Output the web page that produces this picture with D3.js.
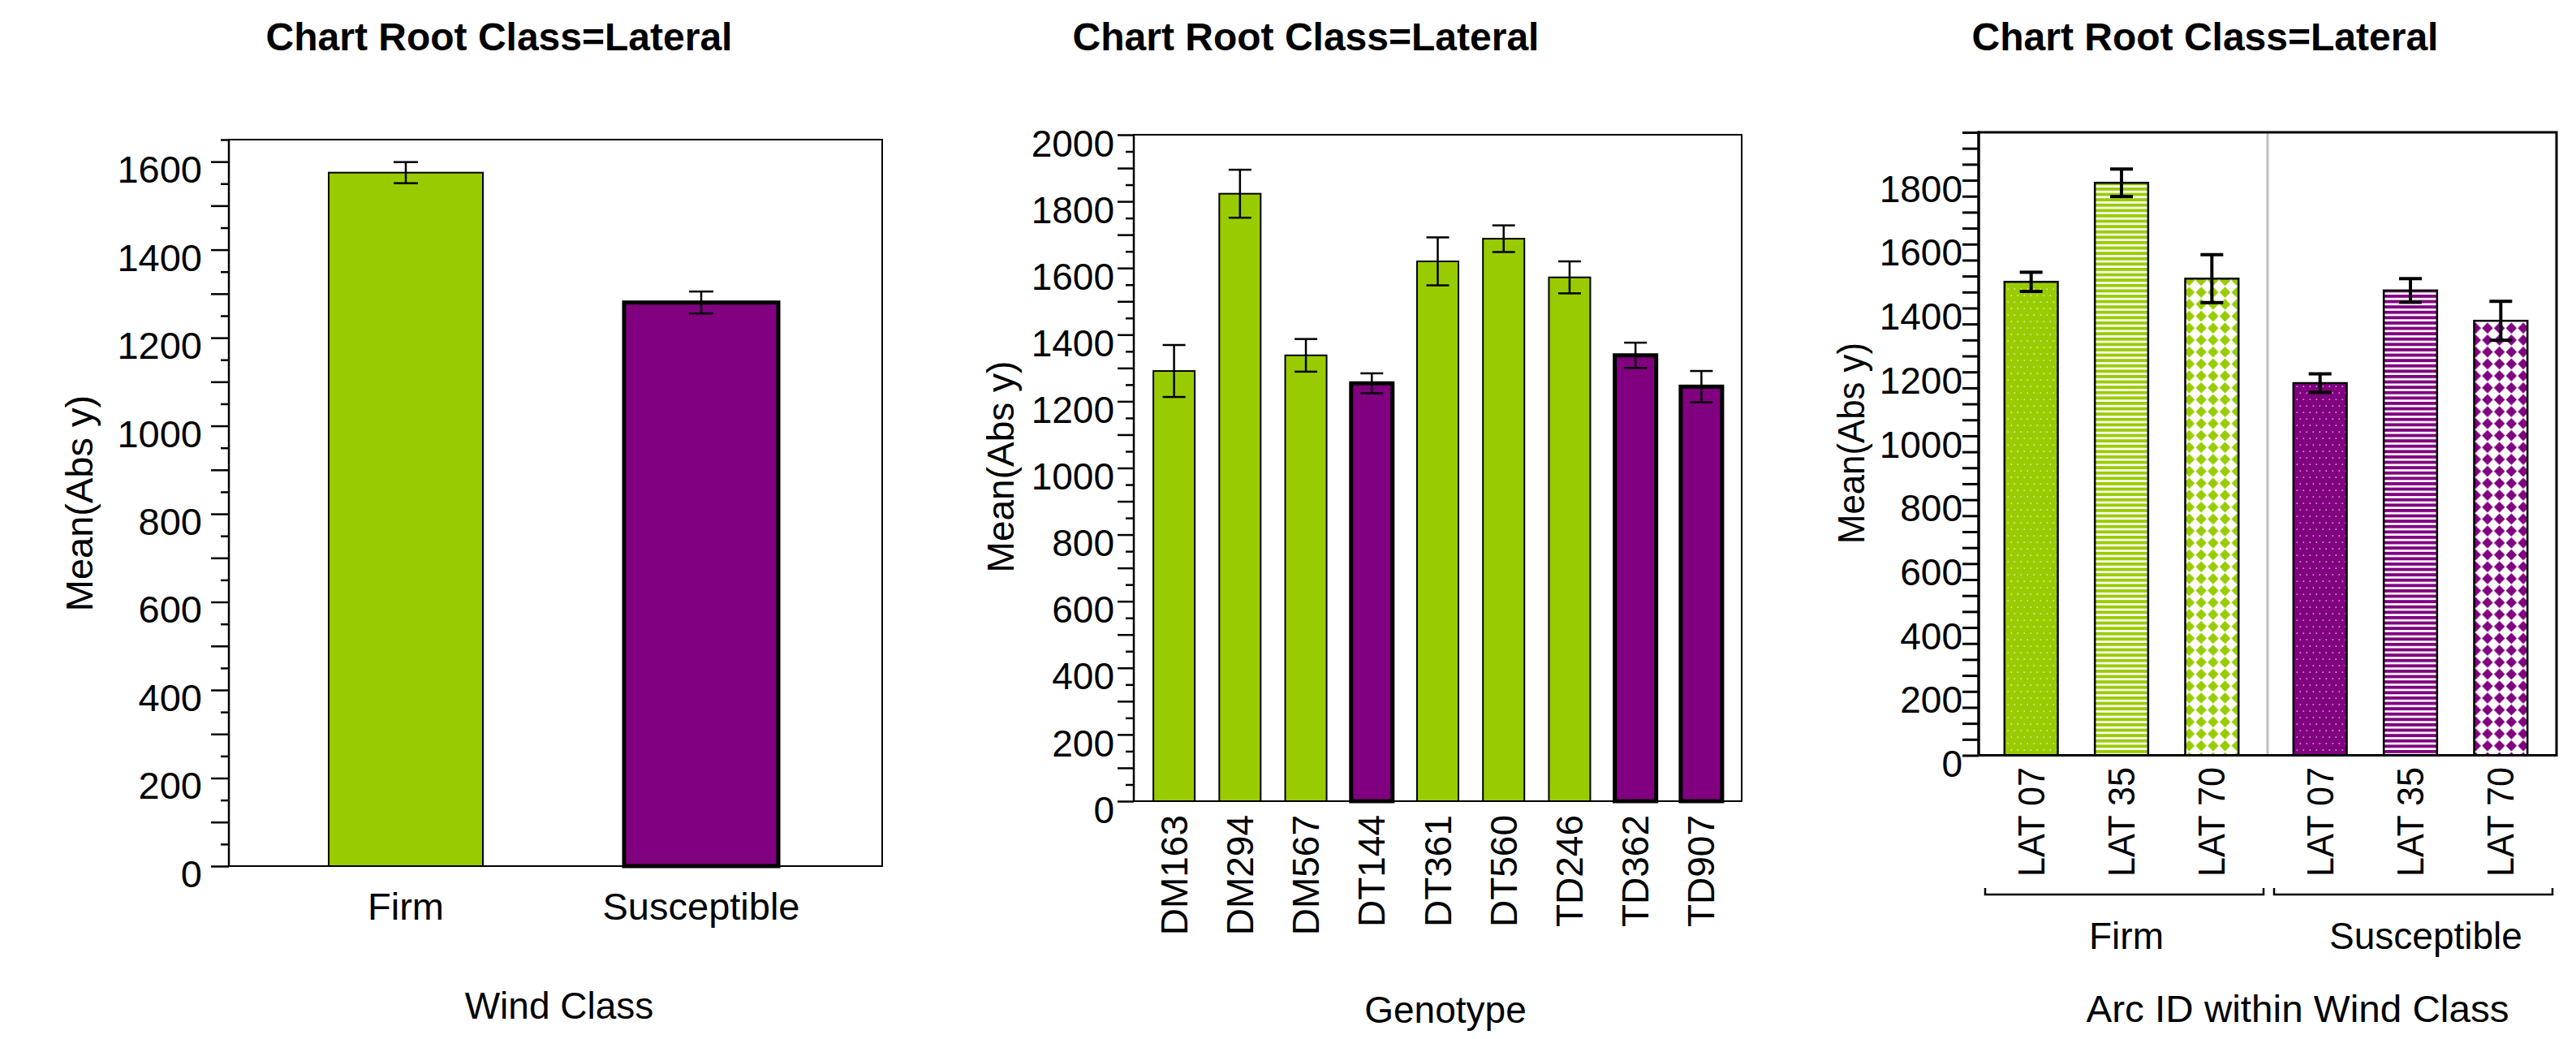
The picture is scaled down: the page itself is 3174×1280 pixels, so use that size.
<!DOCTYPE html>
<html>
<head>
<meta charset="utf-8">
<script src="https://cdn.jsdelivr.net/npm/d3@7"></script>
<style>
  html, body { margin: 0; padding: 0; background: #fff; }
  svg { display: block; }
</style>
</head>
<body>
<svg id="chart" width="3174" height="1280"></svg>
<script>
// ---- data -------------------------------------------------------------
const chartTitle = "Chart Root Class=Lateral";
const yTitle = "Mean(Abs y)";

// Panel 1: mean by wind class
const windClasses = ["Firm", "Susceptible"];
const windMeans = [1575, 1280];
const windErrors = [24, 25];
const windTicks = [0, 200, 400, 600, 800, 1000, 1200, 1400, 1600];

// Panel 2: mean by genotype
const genotypes = ["DM163", "DM294", "DM567", "DT144", "DT361", "DT560", "TD246", "TD362", "TD907"];
const genotypeClass = ["Firm", "Firm", "Firm", "Susceptible", "Firm", "Firm", "Firm", "Susceptible", "Susceptible"];
const genotypeMeans = [1291, 1823, 1338, 1254, 1620, 1688, 1572, 1338, 1244];
const genotypeErrors = [78, 72, 49, 30, 72, 40, 48, 38, 47];
const genotypeTicks = [0, 200, 400, 600, 800, 1000, 1200, 1400, 1600, 1800, 2000];

// Panel 3: mean by arc ID within wind class
const arcIds = ["LAT 07", "LAT 35", "LAT 70"];
const arcFills = ["dots", "stripes", "diamonds"];
const arcMeansFirm = [1482, 1792, 1492];
const arcErrorsFirm = [30, 43, 75];
const arcMeansSusceptible = [1165, 1455, 1360];
const arcErrorsSusceptible = [29, 37, 61];
const arcTicks = [0, 200, 400, 600, 800, 1000, 1200, 1400, 1600, 1800];

// ---- styling ----------------------------------------------------------
const FONT = "'Liberation Sans', Arial, Helvetica, sans-serif";
const classColor = { "Firm": "#99cc00", "Susceptible": "#800080" };

const svg = d3.select("#chart").attr("font-family", FONT);
const defs = svg.append("defs");

// fill patterns for the arc-ID bars, one per (kind, class)
Object.entries(classColor).forEach(([cls, col]) => {
  // white speckles on solid colour
  const pd = defs.append("pattern").attr("id", `dots-${cls}`)
    .attr("patternUnits", "userSpaceOnUse").attr("width", 8).attr("height", 16);
  pd.append("rect").attr("width", 8).attr("height", 16).attr("fill", col);
  pd.append("rect").attr("x", 1.5).attr("y", 3.5).attr("width", 1.6).attr("height", 1.2).attr("fill", "#fff").attr("opacity", 0.85);
  pd.append("rect").attr("x", 5.5).attr("y", 11.5).attr("width", 1.6).attr("height", 1.2).attr("fill", "#fff").attr("opacity", 0.85);

  // horizontal stripes
  const ps = defs.append("pattern").attr("id", `stripes-${cls}`)
    .attr("patternUnits", "userSpaceOnUse").attr("width", 10).attr("height", 6.6);
  ps.append("rect").attr("width", 10).attr("height", 6.6).attr("fill", "#fff");
  ps.append("rect").attr("y", 0).attr("width", 10).attr("height", 3.9).attr("fill", col);

  // diamond checkerboard
  const s = 14.7, h = s / 2;
  const pk = defs.append("pattern").attr("id", `diamonds-${cls}`)
    .attr("patternUnits", "userSpaceOnUse").attr("width", s).attr("height", s);
  pk.append("rect").attr("width", s).attr("height", s).attr("fill", "#fff");
  pk.append("path").attr("d", `M${h},0.6 L${s - 0.6},${h} L${h},${s - 0.6} L0.6,${h} Z`).attr("fill", col);
});

// ---- helpers ----------------------------------------------------------
function title(cx) {
  svg.append("text").attr("x", cx).attr("y", 62)
    .attr("text-anchor", "middle").attr("font-size", 48).attr("font-weight", "bold")
    .text(chartTitle);
}

function yLabel(cx, cy, fs, len) {
  const t = svg.append("text")
    .attr("transform", `translate(${cx},${cy}) rotate(-90)`)
    .attr("text-anchor", "middle").attr("dy", "0.35em")
    .attr("font-size", fs).text(yTitle);
  if (len) t.attr("textLength", len).attr("lengthAdjust", "spacingAndGlyphs");
}

function yAxis(y, x0, labels, o) {
  const max = y.domain()[1];
  const ax = d3.axisLeft(y)
    .tickValues(d3.range(0, max + 1, 50))
    .tickFormat(d => labels.includes(d) ? String(d) : "")
    .tickSizeOuter(0);
  const g = svg.append("g").attr("transform", `translate(${x0},0)`).call(ax)
    .attr("font-family", FONT).attr("font-size", o.fs);
  g.select(".domain").remove();
  g.selectAll(".tick line")
    .attr("x2", d => -(d % 100 === 0 ? o.longLen : o.shortLen))
    .attr("stroke", "#000").attr("stroke-width", o.sw);
  g.selectAll(".tick text")
    .attr("x", -o.gap).attr("y", o.shift).attr("dy", "0.35em").attr("fill", "#000");
  return g;
}

function frame(x0, x1, yTop, yBot, sw) {
  svg.append("path")
    .attr("d", `M${x0},${yBot} V${yTop} H${x1} V${yBot} H${x0}`)
    .attr("fill", "none").attr("stroke", "#000").attr("stroke-width", sw)
    .attr("stroke-linejoin", "miter");
}

function errorBar(cx, y, mean, err, capW, sw) {
  const g = svg.append("g").attr("stroke", "#000").attr("stroke-width", sw);
  g.append("line").attr("x1", cx).attr("x2", cx).attr("y1", y(mean + err)).attr("y2", y(mean - err));
  g.append("line").attr("x1", cx - capW / 2).attr("x2", cx + capW / 2).attr("y1", y(mean + err)).attr("y2", y(mean + err));
  g.append("line").attr("x1", cx - capW / 2).attr("x2", cx + capW / 2).attr("y1", y(mean - err)).attr("y2", y(mean - err));
}

// ---- panel 1: wind class ---------------------------------------------
(function () {
  const L = 282, R = 1087, T = 172, B = 1067;
  const y = d3.scaleLinear().domain([0, 1650]).range([B, T]);
  const x = d3.scaleBand().domain(windClasses).range([318, 1046])
    .paddingInner(0.478).paddingOuter(0.239);

  title(615);
  frame(L, R, T, B, 2);

  windClasses.forEach((c, i) => {
    const thick = c === "Susceptible";
    svg.append("rect")
      .attr("x", x(c)).attr("width", x.bandwidth())
      .attr("y", y(windMeans[i])).attr("height", y(0) - y(windMeans[i]))
      .attr("fill", classColor[c]).attr("stroke", "#000")
      .attr("stroke-width", thick ? 5 : 2);
    errorBar(x(c) + x.bandwidth() / 2, y, windMeans[i], windErrors[i], 30, 2.5);
  });

  yAxis(y, L, windTicks, { fs: 47, longLen: 22, shortLen: 10, sw: 2.5, gap: 33, shift: 9 });
  svg.append("line").attr("x1", L).attr("x2", L).attr("y1", T).attr("y2", B)
    .attr("stroke", "#000").attr("stroke-width", 2.5);

  windClasses.forEach(c => {
    svg.append("text").attr("x", x(c) + x.bandwidth() / 2).attr("y", 1133)
      .attr("text-anchor", "middle").attr("font-size", 47).text(c);
  });
  svg.append("text").attr("x", 689).attr("y", 1255)
    .attr("text-anchor", "middle").attr("font-size", 46).text("Wind Class");
  yLabel(98, 620, 47);
})();

// ---- panel 2: genotype -----------------------------------------------
(function () {
  const L = 1397, R = 2146, T = 166, B = 987;
  const y = d3.scaleLinear().domain([0, 2000]).range([B, T]);
  const x = d3.scaleBand().domain(genotypes).range([1406, 2137])
    .paddingInner(0.372).paddingOuter(0.186);

  title(1609);
  frame(L, R, T, B, 2);

  genotypes.forEach((gname, i) => {
    const cls = genotypeClass[i];
    svg.append("rect")
      .attr("x", x(gname)).attr("width", x.bandwidth())
      .attr("y", y(genotypeMeans[i])).attr("height", y(0) - y(genotypeMeans[i]))
      .attr("fill", classColor[cls]).attr("stroke", "#000")
      .attr("stroke-width", cls === "Susceptible" ? 5 : 2);
    errorBar(x(gname) + x.bandwidth() / 2, y, genotypeMeans[i], genotypeErrors[i], 28, 2.5);
  });

  yAxis(y, L, genotypeTicks, { fs: 46, longLen: 20, shortLen: 10, sw: 2.5, gap: 24, shift: 10 });
  svg.append("line").attr("x1", L).attr("x2", L).attr("y1", T).attr("y2", B)
    .attr("stroke", "#000").attr("stroke-width", 2.5);

  genotypes.forEach(gname => {
    svg.append("text")
      .attr("transform", `translate(${x(gname) + x.bandwidth() / 2},1004) rotate(-90)`)
      .attr("text-anchor", "end").attr("dy", "0.35em")
      .attr("font-size", 46).text(gname);
  });
  svg.append("text").attr("x", 1781).attr("y", 1260)
    .attr("text-anchor", "middle").attr("font-size", 46).text("Genotype");
  yLabel(1233, 575, 46);
})();

// ---- panel 3: arc ID within wind class -------------------------------
(function () {
  const L = 2438, R = 3150, T = 163, B = 930.5;
  const y = d3.scaleLinear().domain([0, 1950]).range([B, T]);
  const xg = d3.scaleBand().domain(windClasses).range([L, R]);
  const xi = d3.scaleBand().domain(arcIds).range([9, xg.bandwidth() - 13])
    .paddingInner(0.41).paddingOuter(0.205);
  const groups = [
    { cls: "Firm", means: arcMeansFirm, errs: arcErrorsFirm, labelDx: 4 },
    { cls: "Susceptible", means: arcMeansSusceptible, errs: arcErrorsSusceptible, labelDx: 17 }
  ];

  title(2717);

  // group separator
  svg.append("line").attr("x1", xg("Susceptible")).attr("x2", xg("Susceptible"))
    .attr("y1", T).attr("y2", B).attr("stroke", "#c0c0c0").attr("stroke-width", 3);

  groups.forEach(gr => {
    const g0 = xg(gr.cls);
    arcIds.forEach((id, i) => {
      const bx = g0 + xi(id);
      svg.append("rect")
        .attr("x", bx).attr("width", xi.bandwidth())
        .attr("y", y(gr.means[i])).attr("height", y(0) - y(gr.means[i]))
        .attr("fill", `url(#${arcFills[i]}-${gr.cls})`)
        .attr("stroke", "#000").attr("stroke-width", 2.5);
      errorBar(bx + xi.bandwidth() / 2, y, gr.means[i], gr.errs[i], 28, 4);

      svg.append("text")
        .attr("transform", `translate(${bx + xi.bandwidth() / 2},945) rotate(-90)`)
        .attr("text-anchor", "end").attr("dy", "0.35em")
        .attr("font-size", 46).attr("textLength", 135).attr("lengthAdjust", "spacingAndGlyphs")
        .text(id);
    });

    // bracket beneath each group
    const b0 = g0 + 8, b1 = g0 + xg.bandwidth() - 5;
    svg.append("path").attr("d", `M${b0},1094 V1102 H${b1} V1094`)
      .attr("fill", "none").attr("stroke", "#000").attr("stroke-width", 2.5);
    svg.append("text").attr("x", g0 + xg.bandwidth() / 2 + gr.labelDx).attr("y", 1169)
      .attr("text-anchor", "middle").attr("font-size", 46).text(gr.cls);
  });

  frame(L, R, T, B, 3);
  yAxis(y, L, arcTicks, { fs: 46, longLen: 20, shortLen: 20, sw: 3, gap: 20, shift: 10 });
  svg.append("line").attr("x1", L).attr("x2", L).attr("y1", T - 1.5).attr("y2", B)
    .attr("stroke", "#000").attr("stroke-width", 3);

  svg.append("text").attr("x", 2831).attr("y", 1259)
    .attr("text-anchor", "middle").attr("font-size", 46)
    .attr("textLength", 521).attr("lengthAdjust", "spacingAndGlyphs")
    .text("Arc ID within Wind Class");
  yLabel(2281, 546, 46, 248);
})();
</script>
</body>
</html>
